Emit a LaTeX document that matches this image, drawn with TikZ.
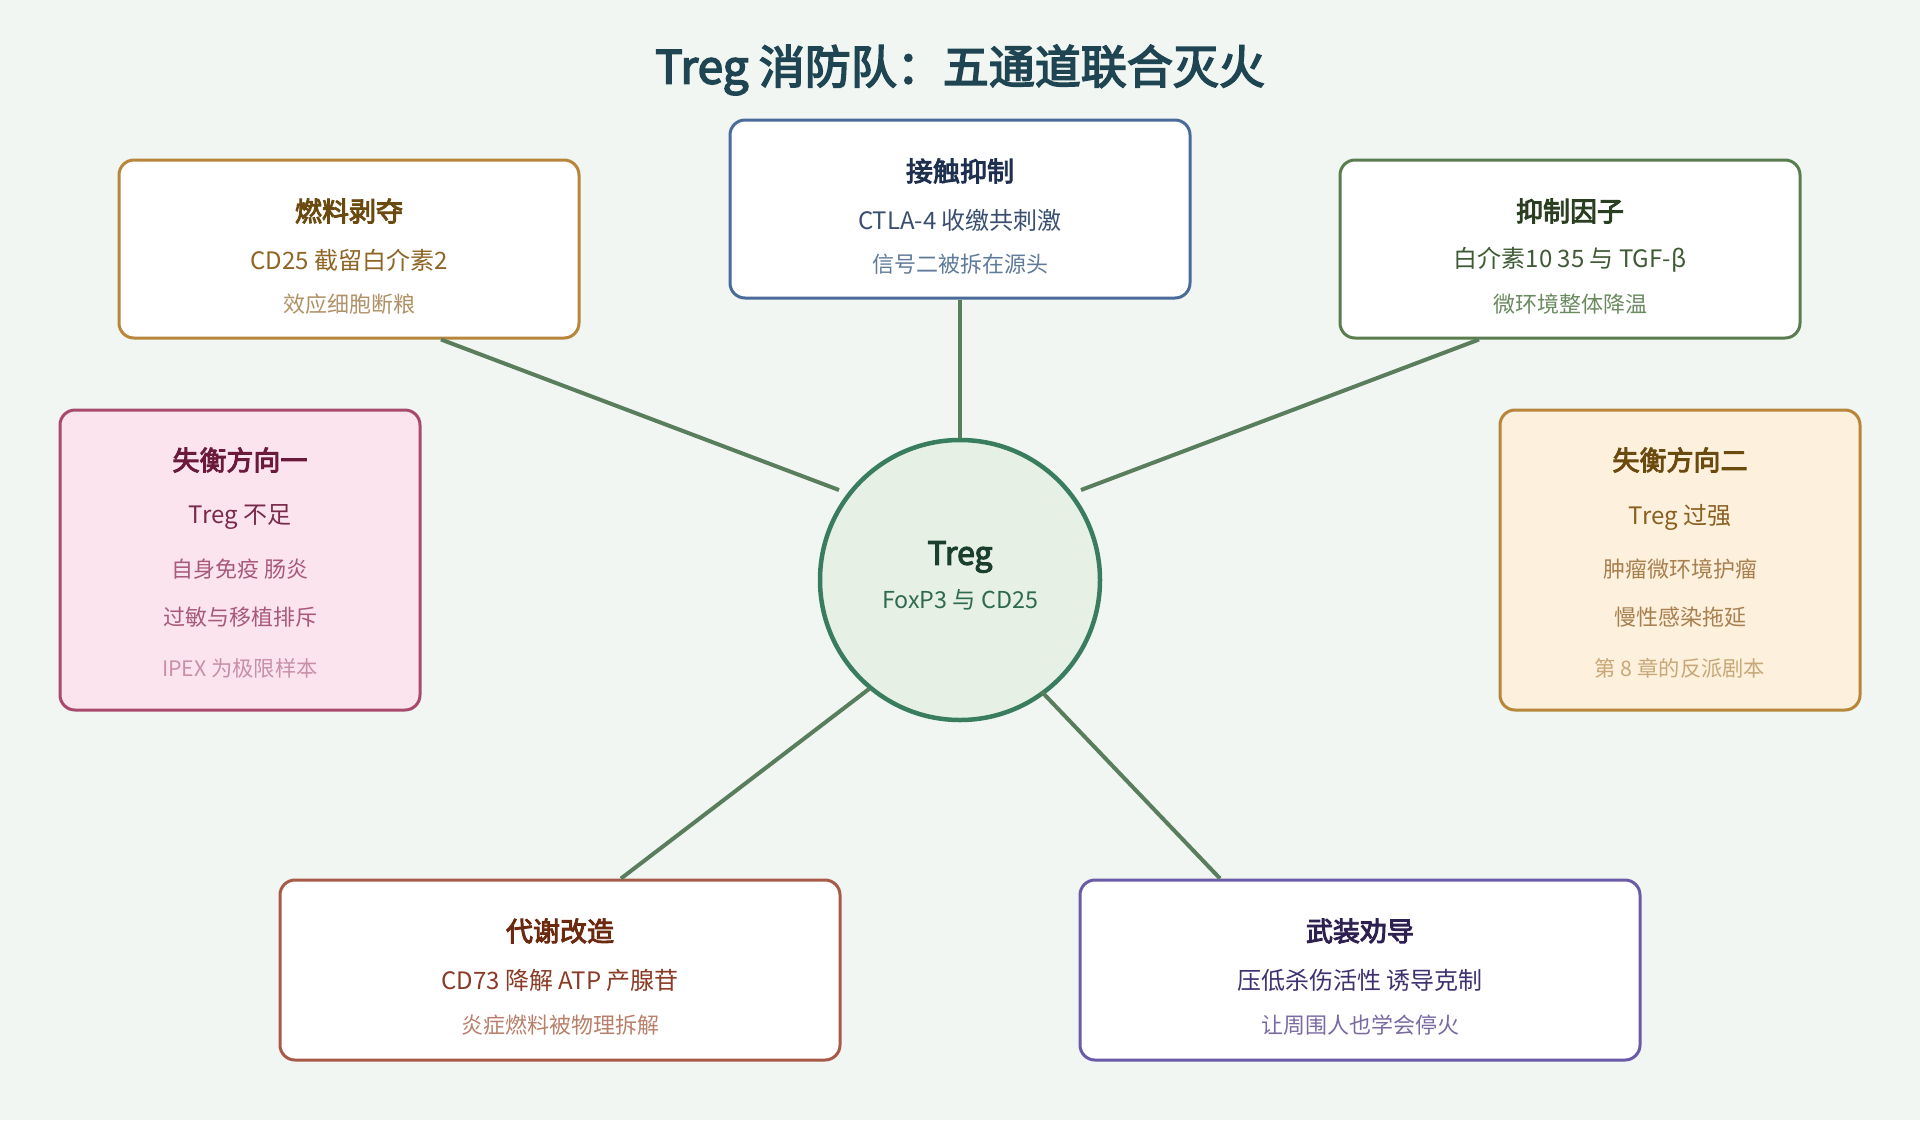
\documentclass[tikz,border=0pt]{standalone}
\usepackage{fontspec}
\usetikzlibrary{calc}
\setmainfont{Noto Sans CJK SC}
\newfontfamily\boldcjk{Noto Sans CJK SC}[FakeBold=3.5]
\definecolor{bgc}{HTML}{F1F6F2}
\definecolor{titlec}{HTML}{1F4553}
\definecolor{linkc}{HTML}{5A7D5E}
\definecolor{aB}{HTML}{B8863B}\definecolor{aT}{HTML}{6B4A10}\definecolor{aS}{HTML}{8F6425}\definecolor{aN}{HTML}{B09268}
\definecolor{bB}{HTML}{4A6A9A}\definecolor{bT}{HTML}{1E2F4F}\definecolor{bS}{HTML}{3A4F70}\definecolor{bN}{HTML}{5F7A9A}
\definecolor{cB}{HTML}{5A7D50}\definecolor{cT}{HTML}{2A3F22}\definecolor{cS}{HTML}{3F5A35}\definecolor{cN}{HTML}{6A8A60}
\definecolor{dF}{HTML}{FBE4EE}\definecolor{dB}{HTML}{A84A6E}\definecolor{dT}{HTML}{6B1A3A}\definecolor{dS}{HTML}{7A2A4A}\definecolor{dN}{HTML}{A85A7A}\definecolor{dL}{HTML}{C890A8}
\definecolor{eF}{HTML}{FDF0DC}\definecolor{eB}{HTML}{B8863B}\definecolor{eT}{HTML}{6B4A10}\definecolor{eS}{HTML}{8A6020}\definecolor{eN}{HTML}{A88050}\definecolor{eL}{HTML}{C8A878}
\definecolor{fB}{HTML}{A85A48}\definecolor{fT}{HTML}{6B2A10}\definecolor{fS}{HTML}{8A3A25}\definecolor{fN}{HTML}{B8806A}
\definecolor{gB}{HTML}{6A5AA8}\definecolor{gT}{HTML}{2E2050}\definecolor{gS}{HTML}{3F3070}\definecolor{gN}{HTML}{7A6AA0}
\definecolor{hF}{HTML}{E6F0E4}\definecolor{hB}{HTML}{3A7D5E}\definecolor{hT}{HTML}{1A3F2F}\definecolor{hS}{HTML}{2F6A4F}
\begin{document}
\begin{tikzpicture}[x=1pt,y=-1pt,
  card/.style={draw, line width=3pt, rounded corners=15pt, fill=white, inner sep=0pt},
  ttl/.style={inner sep=0pt, font=\fontsize{27}{31}\selectfont\boldcjk},
  sub/.style={inner sep=0pt, font=\fontsize{24}{28}\selectfont},
  note/.style={inner sep=0pt, font=\fontsize{22}{26}\selectfont},
  link/.style={draw=linkc, line width=4pt}]
\fill[bgc] (0,0) rectangle (1920,1120);
\useasboundingbox (0,0) rectangle (1920,1120);
% title
\node[inner sep=0pt, text=titlec, font=\fontsize{46}{52}\selectfont\boldcjk] (title) at (960,70) {Treg 消防队：五通道联合灭火};
% boxes
\node[card, draw=aB, minimum width=460pt, minimum height=178pt] (b1) at (349,249) {};
\node[card, draw=bB, minimum width=460pt, minimum height=178pt] (b2) at (960,209) {};
\node[card, draw=cB, minimum width=460pt, minimum height=178pt] (b3) at (1570,249) {};
\node[card, draw=dB, fill=dF, minimum width=360pt, minimum height=300pt] (b4) at (240,560) {};
\node[card, draw=eB, fill=eF, minimum width=360pt, minimum height=300pt] (b5) at (1680,560) {};
\node[card, draw=fB, minimum width=560pt, minimum height=180pt] (b6) at (560,970) {};
\node[card, draw=gB, minimum width=560pt, minimum height=180pt] (b7) at (1360,970) {};
\node[circle, draw=hB, fill=hF, line width=4.5pt, minimum size=280pt, inner sep=0pt] (c) at (960,580) {};
% connector ends
\coordinate (e1) at (839,490);
\coordinate (e3) at (1081,490);
\coordinate (e4) at (869,689);
\coordinate (e6) at (1042,692);
\draw[link] ($(b1.south)+(92,0)$) -- (e1);
\draw[link] (b2.south) -- (c.north);
\draw[link] ($(b3.south)+(-91,0)$) -- (e3);
\draw[link] ($(b6.north)+(61,0)$) -- (e4);
\draw[link] ($(b7.north)+(-140,0)$) -- (e6);
% box texts
\node[ttl, text=aT] (t1) at (349,211) {燃料剥夺};
\node[sub, text=aS] (s1) at (349,260) {CD25 截留白介素2};
\node[note, text=aN] (n1) at (349,304) {效应细胞断粮};
\node[ttl, text=bT] (t2) at (960,171) {接触抑制};
\node[sub, text=bS] (s2) at (960,220) {CTLA-4 收缴共刺激};
\node[note, text=bN] (n2) at (960,264) {信号二被拆在源头};
\node[ttl, text=cT] (t3) at (1570,211) {抑制因子};
\node[sub, text=cS] (s3) at (1570,260) {白介素10 35 与 TGF-β};
\node[note, text=cN] (n3) at (1570,304) {微环境整体降温};
\node[ttl, text=dT] (t4) at (240,460) {失衡方向一};
\node[sub, text=dS] (s4) at (240,517) {Treg 不足};
\node[note, text=dN] (n4) at (240,569) {自身免疫 肠炎};
\node[note, text=dN] (m4) at (240,617) {过敏与移植排斥};
\node[note, text=dL, font=\fontsize{21.3}{25}\selectfont] (l4) at (240,668) {IPEX 为极限样本};
\node[ttl, text=eT] (t5) at (1680,460) {失衡方向二};
\node[sub, text=eS] (s5) at (1680,517) {Treg 过强};
\node[note, text=eN] (n5) at (1680,569) {肿瘤微环境护瘤};
\node[note, text=eN] (m5) at (1680,617) {慢性感染拖延};
\node[note, text=eL, font=\fontsize{21.3}{25}\selectfont] (l5) at (1680,668) {第 8 章的反派剧本};
\node[ttl, text=fT] (t6) at (560,931) {代谢改造};
\node[sub, text=fS] (s6) at (560,980) {CD73 降解 ATP 产腺苷};
\node[note, text=fN] (n6) at (560,1025) {炎症燃料被物理拆解};
\node[ttl, text=gT] (t7) at (1360,931) {武装劝导};
\node[sub, text=gS] (s7) at (1360,980) {压低杀伤活性 诱导克制};
\node[note, text=gN] (n7) at (1360,1025) {让周围人也学会停火};
% circle texts
\node[inner sep=0pt, text=hT, font=\fontsize{32}{36}\selectfont\boldcjk] (ct) at (960,557) {Treg};
\node[inner sep=0pt, text=hS, font=\fontsize{23.3}{27}\selectfont] (cs) at (960,600) {FoxP3 与 CD25};
\end{tikzpicture}
\end{document}
